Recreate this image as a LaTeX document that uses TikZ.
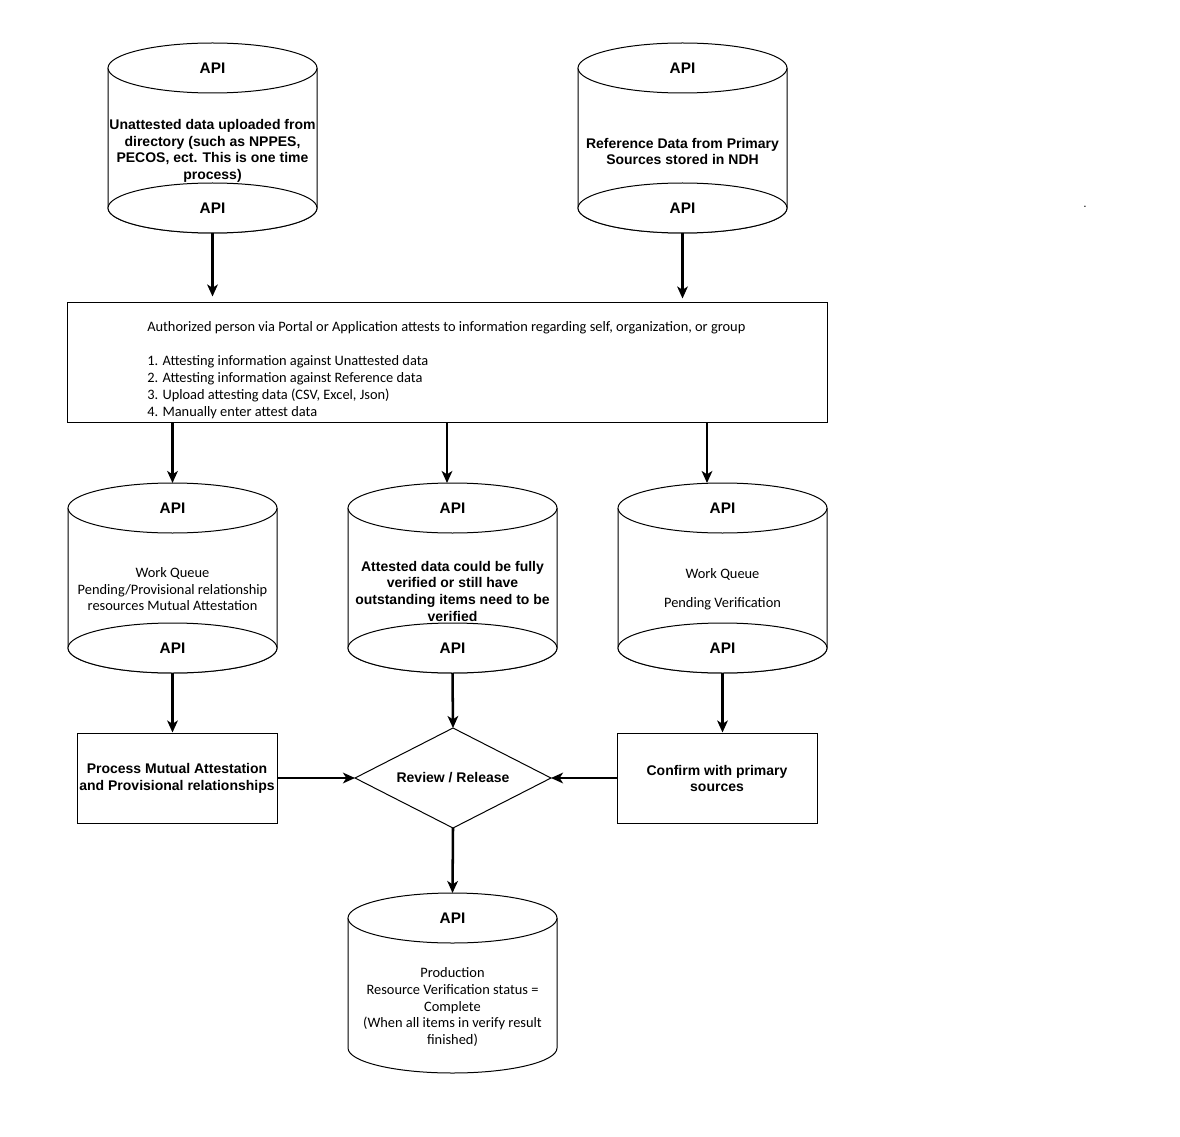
\documentclass[tikz,border=0pt]{standalone}
\usepackage{fontspec}
\setmainfont{Liberation Sans}
\newfontfamily\calfont{Carlito}
\usetikzlibrary{arrows.meta,calc}
\def\px{0.75pt}
\tikzset{
  shapeline/.style={line width=0.75pt, draw=black},
  hold/.style={draw=none, inner sep=0pt, outer sep=0pt},
  arr/.style={line width=1.9pt, -{Stealth[length=9pt,width=8pt,inset=2.5pt]}},
  api/.style={font=\bfseries\fontsize{11.5}{13}\selectfont, inner sep=0pt},
  btext/.style={font=\bfseries\fontsize{10.5}{12.5}\selectfont, align=center, inner sep=0pt},
  ctext/.style={font=\calfont\fontsize{10.8}{12.4}\selectfont, align=center, inner sep=0pt},
  boxtext/.style={font=\calfont\fontsize{10.8}{12.75}\selectfont, align=left, inner sep=0pt},
}
\newcommand\dbcyl[5]{%
  \node[hold, minimum width={209*\px}, minimum height={(#4-#3)*\px}] (#1) at (#2,{(#3+#4)/2}) {};
  \filldraw[shapeline, fill=white] ({#2-104.5},{#3+25}) -- ({#2-104.5},{#4-25})
     arc[start angle=180, end angle=0, x radius=104.5, y radius=25] -- ({#2+104.5},{#3+25});
  \draw[shapeline, fill=white] (#2,{#3+25}) ellipse[x radius=104.5, y radius=25];
  \ifnum#5=1 \draw[shapeline, fill=white] (#2,{#4-25}) ellipse[x radius=104.5, y radius=25];\fi
}
\begin{document}
\begin{tikzpicture}[x=0.75pt, y=-0.75pt]
\fill[white] (0,0) rectangle (1180,1137);
\useasboundingbox (0,0) rectangle (1180,1137);

% top row cylinders
\dbcyl{c1}{212.5}{43}{233}{1}
\dbcyl{c2}{682.5}{43}{233}{1}
\node[api] (c1t) at (212.5,68) {API};
\node[api] (c1b) at (212.5,208) {API};
\node[api] (c2t) at (682.5,68) {API};
\node[api] (c2b) at (682.5,208) {API};
\node[btext] (c1x) at (212.5,151) {Unattested data uploaded from\\directory (such as NPPES,\\PECOS, ect. This is one time\\process)};
\node[btext] (c2x) at (682.5,151.5) {Reference Data from Primary\\Sources stored in NDH};

\node[font=\fontsize{9}{10}\selectfont, inner sep=0pt] (dot) at (1085,207) {.};

% attest box
\node[shapeline, fill=white, minimum width={760*\px}, minimum height={119*\px}, inner sep=0pt] (box) at (447,362.5) {};
\node[boxtext, anchor=west] (boxx) at (147,370.5) {Authorized person via Portal or Application attests to information regarding self, organization, or group\\[12.75pt]
1. Attesting information against Unattested data\\
2. Attesting information against Reference data\\
3. Upload attesting data (CSV, Excel, Json)\\
4. Manually enter attest data};

% second row cylinders
\dbcyl{q1}{172.5}{483}{673}{1}
\dbcyl{q2}{452.5}{483}{673}{1}
\dbcyl{q3}{722.5}{483}{673}{1}
\node[api] (q1t) at (172.5,508) {API};
\node[api] (q1b) at (172.5,648) {API};
\node[api] (q2t) at (452.5,508) {API};
\node[api] (q2b) at (452.5,648) {API};
\node[api] (q3t) at (722.5,508) {API};
\node[api] (q3b) at (722.5,648) {API};
\node[ctext] (q1x) at (172.5,589.5) {Work Queue\\Pending/Provisional relationship\\resources Mutual Attestation};
\node[btext] (q2x) at (452.5,591) {Attested data could be fully\\verified or still have\\outstanding items need to be\\verified};
\node[ctext] (q3x) at (722.5,589.5) {Work Queue\\[9.3pt]Pending Verification};

% third row
\node[shapeline, fill=white, minimum width={200*\px}, minimum height={90*\px}, inner sep=0pt] (pL) at (177,778) {};
\node[btext] (pLx) at (177,778.5) {Process Mutual Attestation\\and Provisional relationships};
\node[shapeline, fill=white, minimum width={200*\px}, minimum height={90*\px}, inner sep=0pt] (pR) at (717,778) {};
\node[btext] (pRx) at (717,778.5) {Confirm with primary\\sources};
\node[hold, minimum width={196*\px}, minimum height={100*\px}] (dia) at (453,778) {};
\filldraw[shapeline, fill=white] (dia.north) -- (dia.east) -- (dia.south) -- (dia.west) -- cycle;
\node[btext] (diax) at (453,778) {Review / Release};

% production cylinder
\dbcyl{prod}{452.5}{893}{1073}{0}
\node[api] (prodt) at (452.5,918) {API};
\node[ctext] (prodx) at (452.5,1007) {Production\\Resource Verification status =\\Complete\\(When all items in verify result\\finished)};

% arrows
\draw[arr, shorten >=4.5pt] (c1.south) -- (c1.south |- box.north);
\draw[arr, shorten >=3pt] (c2.south) -- (c2.south |- box.north);
\draw[arr] (box.south -| q1.north) -- (q1.north);
\draw[arr] ([xshift=-5.5*\px]box.south -| q2.north) -- ([xshift=-5.5*\px]q2.north);
\draw[arr] ([xshift=-15.5*\px]box.south -| q3.north) -- ([xshift=-15.5*\px]q3.north);
\draw[arr] (q1.south) -- (q1.south |- pL.north);
\draw[arr] (q2.south) -- (dia.north);
\draw[arr] (q3.south) -- (q3.south |- pR.north);
\draw[arr] (pL.east) -- (dia.west);
\draw[arr] (pR.west) -- (dia.east);
\draw[arr] (dia.south) -- (prod.north);
\end{tikzpicture}
\end{document}
